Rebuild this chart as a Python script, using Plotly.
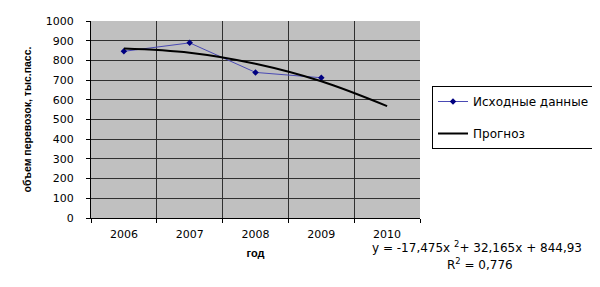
import plotly.graph_objects as go

years = [2006, 2007, 2008, 2009, 2010]
actual_years = [2006, 2007, 2008, 2009]
actual_values = [846, 889, 739, 712]
forecast_values = [860, 839, 783, 694, 568]
y_ticks = [0, 100, 200, 300, 400, 500, 600, 700, 800, 900, 1000]

FONT = "DejaVu Sans, sans-serif"
TFONT = "Liberation Sans, Arial, sans-serif"
OFF = 8  # page offset of the figure (body margin)
W, H = 600 - OFF, 287 - OFF
ML, MT = 91 - OFF, 21 - OFF
MR = W - (420 - OFF)
MB = H - (218 - OFF)
pw = W - ML - MR
ph = H - MT - MB


def px2paper(px, py):
    return ((px - OFF) - ML) / pw, (H - MB - (py - OFF)) / ph


fig = go.Figure()
fig.add_trace(go.Scatter(
    x=actual_years, y=actual_values, name="Исходные данные",
    mode="lines+markers", legendgroup="a",
    line=dict(color="#4a4ab4", width=1),
    marker=dict(symbol="diamond", size=5, color="#000080"),
))
fig.add_trace(go.Scatter(
    x=years, y=forecast_values, name="Прогноз",
    mode="lines", legendgroup="b",
    line=dict(color="#000000", width=2, shape="spline"),
))

lx, ly = px2paper(432, 86)
fig.update_layout(
    width=W, height=H,
    margin=dict(l=ML, r=MR, t=MT, b=MB, autoexpand=False),
    paper_bgcolor="white",
    plot_bgcolor="#c0c0c0",
    font=dict(family=FONT, size=11, color="black"),
    legend=dict(
        x=lx, y=ly, xanchor="left", yanchor="top",
        bordercolor="black", borderwidth=1, bgcolor="white",
        font=dict(size=12, family=FONT),
        tracegroupgap=13, itemwidth=30,
    ),
    xaxis=dict(
        range=[2005.5, 2010.5],
        tickvals=years, ticktext=[str(y) for y in years],
        showgrid=False, ticks="", automargin=False,
        ticklabelstandoff=6,
        showline=True, linecolor="black", linewidth=1,
        zeroline=False,
        tickfont=dict(size=11),
        title=dict(text="<b>год</b>", font=dict(size=11, family=TFONT), standoff=9),
        minor=dict(tick0=2005.5, dtick=1, showgrid=True,
                   gridcolor="#303030", gridwidth=1,
                   ticks="outside", ticklen=4, tickcolor="black"),
    ),
    yaxis=dict(
        range=[0, 1000], tickvals=y_ticks, automargin=False,
        showgrid=True, gridcolor="#303030", gridwidth=1,
        ticks="outside", ticklen=4, tickcolor="black",
        ticklabelstandoff=10,
        showline=True, linecolor="black", linewidth=1,
        zeroline=False,
        tickfont=dict(size=11),
        title=dict(text="<b>объем перевозок, тыс.пасс.</b>",
                   font=dict(size=10.5, family=TFONT), standoff=12),
    ),
)

anns = []
for (px, py, txt) in [(477, 246.5, "y = -17,475x <sup>2</sup>+ 32,165x + 844,93"),
                      (480, 264, "R<sup>2</sup> = 0,776")]:
    ax, ay = px2paper(px, py)
    anns.append(dict(
        x=ax, y=ay, xref="paper", yref="paper",
        showarrow=False, text=txt, xanchor="center", yanchor="middle",
        font=dict(size=12, family=FONT),
    ))
fig.update_layout(annotations=anns)

fig.write_html("out.html")
